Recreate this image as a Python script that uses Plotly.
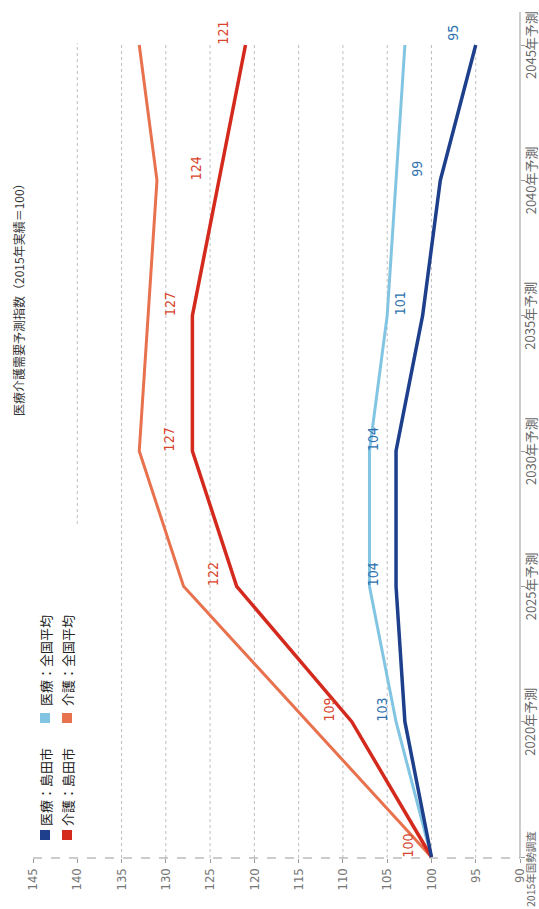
import plotly.graph_objects as go

# ── data ─────────────────────────────────────────────────────────────────────
YEARS = [2015, 2020, 2025, 2030, 2035, 2040, 2045]
YEAR_LABELS = ["2015年国勢調査", "2020年予測", "2025年予測", "2030年予測",
               "2035年予測", "2040年予測", "2045年予測"]

IRYO_SHIMADA = [100, 103, 104, 104, 101, 99, 95]
IRYO_ZENKOKU = [100, 104, 107, 107, 105, 104, 103]
KAIGO_SHIMADA = [100, 109, 122, 127, 127, 124, 121]
KAIGO_ZENKOKU = [100, 114, 128, 133, 132, 131, 133]

VALUE_TICKS = [145, 140, 135, 130, 125, 120, 115, 110, 105, 100, 95, 90]
GRID_VALUES = [140, 135, 130, 125, 120, 115, 110, 105, 100, 95]

TITLE = "医療介護需要予測指数（2015年実績＝100）"

# ── style ────────────────────────────────────────────────────────────────────
DARK_BLUE = "#1d3f8c"
LIGHT_BLUE = "#82c5e3"
RED = "#d42a1e"
ORANGE = "#e8714e"
BLUE_LABEL = "#2d70ae"
RED_LABEL = "#d8432c"

CJK = "Noto Sans CJK JP, sans-serif"
NUM = "Liberation Sans Narrow, DejaVu Sans Condensed, Liberation Sans, sans-serif"

# body margin is removed in the page (post_script below), so figure == window
W, H = 539, 909
L, R, T, B = 33, 19, 43, 51


def px_x(px):
    """screen pixel -> paper x"""
    return (px - L) / (W - L - R)


def px_y(py):
    """screen pixel -> paper y"""
    return (H - B - py) / (H - T - B)


SERIES = [
    ("介護：全国平均", KAIGO_ZENKOKU, ORANGE, 3),
    ("医療：全国平均", IRYO_ZENKOKU, LIGHT_BLUE, 3),
    ("介護：島田市", KAIGO_SHIMADA, RED, 3.5),
    ("医療：島田市", IRYO_SHIMADA, DARK_BLUE, 3.5),
]

fig = go.Figure()

for name, vals, color, width in SERIES:
    fig.add_trace(go.Scatter(
        x=vals, y=YEARS, mode="lines", name=name,
        line=dict(color=color, width=width),
        cliponaxis=False, showlegend=False,
    ))

# value labels for 島田市 series (rotated)
annotations = []
for vals, color, start in ((KAIGO_SHIMADA, RED_LABEL, 0), (IRYO_SHIMADA, BLUE_LABEL, 1)):
    for yr, v in list(zip(YEARS, vals))[start:]:
        annotations.append(dict(
            x=v, y=yr, text=str(v), showarrow=False, textangle=-90,
            xshift=-23, yshift=12, xanchor="center", yanchor="middle",
            font=dict(family=NUM, size=14, color=color),
        ))

# title
annotations.append(dict(
    x=px_x(18), y=px_y(297), xref="paper", yref="paper", text=TITLE,
    showarrow=False, textangle=-90, xanchor="center", yanchor="middle",
    font=dict(family=CJK, size=12, color="#333333"),
))

# year labels on the right (rotated); the 2015 one sits a bit lower
for i, (yr, lab) in enumerate(zip(YEARS, YEAR_LABELS)):
    annotations.append(dict(
        x=px_x(530), y=yr, xref="paper", yref="y", text=lab,
        showarrow=False, textangle=-90, xanchor="center", yanchor="middle",
        yshift=-12 if i == 0 else 0,
        font=dict(family=CJK, size=10.5 if i == 0 else 13, color="#666666"),
    ))

# legend (rotated)
shapes = []
legend_items = [
    ("医療：島田市", DARK_BLUE, 45, 835, 787),
    ("医療：全国平均", LIGHT_BLUE, 45, 718, 661),
    ("介護：島田市", RED, 67, 835, 787),
    ("介護：全国平均", ORANGE, 67, 718, 661),
]
for text, color, cx, sq_y, txt_y in legend_items:
    shapes.append(dict(
        type="rect", xref="paper", yref="paper",
        x0=px_x(cx - 5), x1=px_x(cx + 5), y0=px_y(sq_y + 5), y1=px_y(sq_y - 5),
        fillcolor=color, line=dict(width=0),
    ))
    annotations.append(dict(
        x=px_x(cx), y=px_y(txt_y), xref="paper", yref="paper", text=text,
        showarrow=False, textangle=-90, xanchor="center", yanchor="middle",
        font=dict(family=CJK, size=13, color="#222222"),
    ))

# dotted grid lines (140 line stops above the legend)
for v in GRID_VALUES:
    shapes.append(dict(
        type="line", xref="x", yref="paper" if v != 140 else "y",
        x0=v, x1=v, y0=0 if v != 140 else 2027.3, y1=1 if v != 140 else 2045.07,
        line=dict(color="#bdbdbd", width=1, dash="dot"), layer="below",
    ))

# bottom dashed axis line and right solid axis line
shapes.append(dict(
    type="line", xref="paper", yref="paper", x0=0, x1=1, y0=0, y1=0,
    line=dict(color="#999999", width=1, dash="dash"),
))
shapes.append(dict(
    type="line", xref="paper", yref="paper", x0=1, x1=1, y0=0, y1=px_y(12),
    line=dict(color="#999999", width=1),
))

fig.update_layout(
    width=W, height=H,
    margin=dict(l=L, r=R, t=T, b=B, autoexpand=False),
    paper_bgcolor="white", plot_bgcolor="white",
    showlegend=False,
    annotations=annotations,
    shapes=shapes,
    xaxis=dict(
        range=[145, 90], tickvals=VALUE_TICKS,
        ticktext=[str(v) for v in VALUE_TICKS], automargin=False,
        tickangle=-90, showgrid=False, zeroline=False, showline=False,
        ticks="outside", ticklen=4, tickcolor="#999999",
        tickfont=dict(family=NUM, size=13, color="#777777"),
    ),
    yaxis=dict(
        range=[2014.963, 2045.074], side="right", automargin=False,
        tickvals=YEARS, showticklabels=False,
        showgrid=False, zeroline=False, showline=False,
        ticks="outside", ticklen=4, tickcolor="#999999",
    ),
)

fig.write_html(
    "out.html",
    config={"displayModeBar": False},
    post_script="document.body.style.margin = '0'; document.body.style.overflow = 'hidden';",
)
